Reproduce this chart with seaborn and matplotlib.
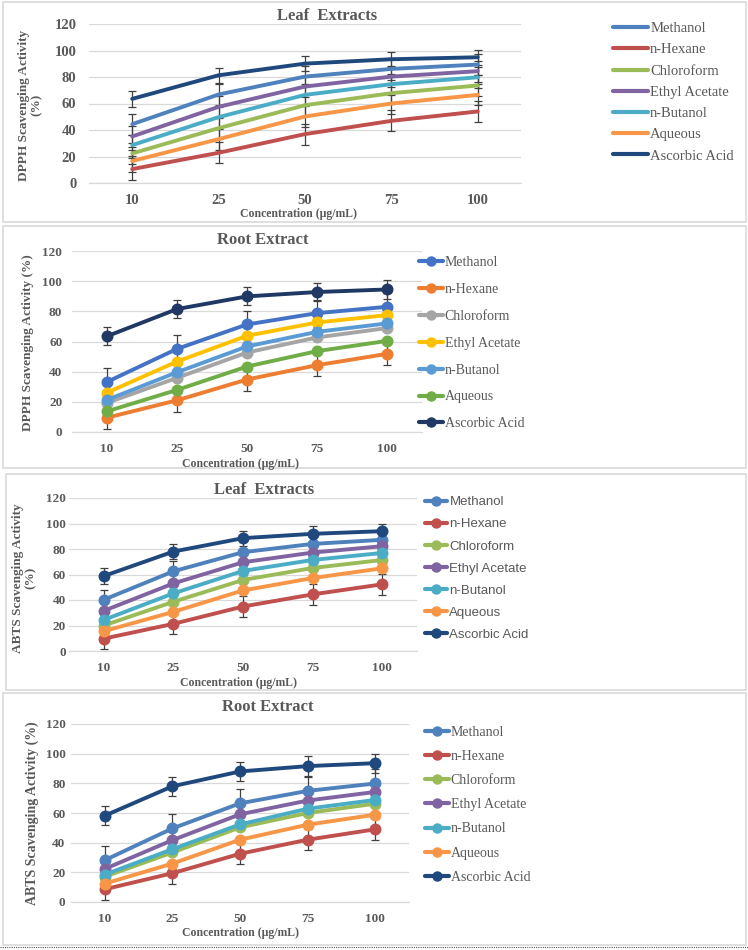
import pandas as pd
import seaborn as sns
import matplotlib.pyplot as plt
import numpy as np
from matplotlib.lines import Line2D
from matplotlib.patches import Rectangle

# data
conc = ["10", "25", "50", "75", "100"]
solvents = ["Methanol", "n-Hexane", "Chloroform", "Ethyl Acetate",
            "n-Butanol", "Aqueous", "Ascorbic Acid"]

dpph_leaf = [
    [44.4, 66.8, 80.3, 86.1, 89.4],
    [10.5, 22.8, 36.9, 46.9, 54.0],
    [22.3, 41.4, 58.7, 67.8, 73.6],
    [35.1, 57.5, 72.8, 80.3, 84.4],
    [28.6, 49.7, 66.5, 74.6, 79.8],
    [16.6, 33.1, 50.2, 60.0, 66.5],
    [63.5, 81.3, 90.1, 93.4, 94.9],
]
dpph_leaf_err = [8, 8, 8, 8, 8, 8, 5.8]

dpph_root = [
    [33.2, 55.1, 71.3, 78.8, 83.0],
    [9.5, 21.0, 34.8, 44.3, 51.8],
    [19.3, 35.9, 52.7, 62.7, 68.9],
    [26.1, 46.7, 63.8, 72.6, 77.5],
    [21.3, 39.6, 56.7, 66.4, 72.0],
    [13.7, 27.9, 43.4, 53.6, 60.4],
    [63.5, 81.5, 89.9, 92.8, 94.5],
]
dpph_root_err = [9, 7.5, None, None, None, None, 6]

abts_leaf = [
    [40.2, 62.5, 77.5, 84.0, 87.2],
    [9.7, 21.3, 34.9, 44.4, 52.3],
    [20.0, 38.6, 55.7, 65.1, 71.4],
    [31.5, 53.0, 69.6, 77.2, 82.2],
    [24.4, 45.2, 62.8, 71.4, 76.9],
    [15.5, 30.7, 47.5, 57.2, 64.9],
    [58.8, 78.0, 88.5, 91.9, 94.0],
]
abts_leaf_err = [8, 8, None, None, None, None, 6]

abts_root = [
    [28.2, 49.6, 66.5, 74.9, 79.9],
    [8.6, 19.4, 32.5, 42.0, 49.0],
    [17.1, 33.4, 50.3, 60.0, 66.3],
    [22.3, 41.7, 59.1, 68.4, 74.2],
    [18.5, 35.6, 52.3, 62.9, 68.8],
    [12.4, 25.9, 42.0, 52.1, 58.9],
    [58.2, 78.0, 88.0, 91.6, 93.6],
]
abts_root_err = [9.5, 7, None, None, None, None, 6.5]

pal_2010 = ["#4F81BD", "#C0504D", "#9BBB59", "#8064A2", "#4BACC6", "#F79646", "#1F497D"]
pal_2013 = ["#4472C4", "#ED7D31", "#A5A5A5", "#FFC000", "#5B9BD5", "#70AD47", "#203864"]

W, H = 748, 950
TXT = "#595959"
SERIF = "Liberation Serif"

sns.set_theme(style="white")
plt.rcParams["font.family"] = [SERIF, "DejaVu Sans"]

fig = plt.figure(figsize=(W / 100, H / 100), dpi=100)


def fx(px):
    return px / W


def fy(py):
    return 1 - py / H


# light panel borders like the Excel chart areas
for x0, y0, x1, y1 in [(3, 2, 746, 222), (3, 226, 746, 468), (6, 474, 746, 690), (3, 693, 746, 945)]:
    fig.patches.append(Rectangle((fx(x0), fy(y1)), fx(x1 - x0), (y1 - y0) / H,
                                 transform=fig.transFigure, fill=False,
                                 edgecolor="#D9D9D9", linewidth=1.2, zorder=0))
fig.add_artist(Line2D([0, 1], [fy(947), fy(947)], color="#555555", linestyle=(0, (1, 1)),
                      linewidth=0.8, transform=fig.transFigure))


def draw_panel(rect, values, errs, palette, markers, title, title_xy, ylabel, ylabel_xy,
               xlabel_xy, leg_xy, leg_font, tick_fs, ypad, title_fs, lab_fs, leg_spacing):
    l, r, t, b = rect
    ax = fig.add_axes([fx(l), fy(b), fx(r - l), (b - t) / H])
    df = pd.DataFrame([
        {"conc": c, "val": v, "solvent": s}
        for s, row in zip(solvents, values) for c, v in zip(conc, row)
    ])
    for i, s in enumerate(solvents):
        if errs[i] is not None:
            ax.errorbar(np.arange(len(conc)), values[i], yerr=errs[i], fmt="none",
                        ecolor="#404040", elinewidth=0.9, capsize=3, capthick=0.9, zorder=1)
    sns.pointplot(data=df, x="conc", y="val", hue="solvent", order=conc,
                  hue_order=solvents, palette=palette, errorbar=None, dodge=False,
                  markers="o", linestyles="-", markersize=6.5 if markers else 0,
                  linewidth=2.8, legend=False, ax=ax)
    for ln in ax.lines:
        ln.set_zorder(3)
    ax.set_xlim(-0.5, len(conc) - 0.5)
    ax.set_ylim(0, 120)
    ax.set_yticks(range(0, 121, 20))
    ax.yaxis.grid(True, color="#D9D9D9", linewidth=0.9)
    ax.set_axisbelow(True)
    for sp in ["top", "right", "left"]:
        ax.spines[sp].set_visible(False)
    ax.spines["bottom"].set_color("#D9D9D9")
    ax.spines["bottom"].set_linewidth(0.9)
    ax.set_xticks(np.arange(-0.5, len(conc)), minor=True)
    ax.tick_params(axis="x", which="minor", length=4, color="#D9D9D9", width=0.9)
    ax.tick_params(axis="x", which="major", length=0, pad=8)
    ax.tick_params(axis="y", length=0, pad=ypad)
    for lab in ax.get_xticklabels() + ax.get_yticklabels():
        lab.set_fontweight("bold")
        lab.set_color(TXT)
        lab.set_fontsize(tick_fs)
    ax.set_xlabel("")
    ax.set_ylabel("")
    fig.text(fx(title_xy[0]), fy(title_xy[1]), title, ha="center", va="center",
             fontsize=title_fs, fontweight="bold", color=TXT)
    fig.text(fx(ylabel_xy[0]), fy(ylabel_xy[1]), ylabel, ha="center", va="center",
             rotation=90, fontsize=lab_fs, fontweight="bold", color=TXT, linespacing=1.1)
    fig.text(fx(xlabel_xy[0]), fy(xlabel_xy[1]), "Concentration (μg/mL)", ha="center",
             va="center", fontsize=8.5, fontweight="bold", color=TXT)
    handles = [Line2D([], [], color=c, linewidth=3, marker="o" if markers else None,
                      markersize=6.5) for c in palette]
    ax.legend(handles, solvents, loc="upper left", bbox_to_anchor=(fx(leg_xy[0]), fy(leg_xy[1])),
              bbox_transform=fig.transFigure, frameon=False, borderpad=0, borderaxespad=0,
              handlelength=2.4 if not markers else 1.7, handletextpad=0.15,
              labelspacing=leg_spacing, prop=leg_font, labelcolor=TXT)
    return ax


draw_panel((89, 521, 24, 183), dpph_leaf, dpph_leaf_err, pal_2010, False,
           "Leaf  Extracts", (327, 16), "DPPH Scavenging Activity\n(%)", (30, 105),
           (298, 214), (613, 22), {"family": SERIF, "size": 10.5}, 10.5, 9, 12, 9.5, 0.55)

draw_panel((72, 422, 251, 432), dpph_root, dpph_root_err, pal_2013, True,
           "Root Extract", (263, 240), "DPPH Scavenging Activity (%)", (28, 343),
           (240, 464), (419, 256), {"family": SERIF, "size": 10}, 9.5, 7, 12, 9.5, 1.0)

draw_panel((69, 417, 498, 651), abts_leaf, abts_leaf_err, pal_2010, True,
           "Leaf  Extracts", (264, 490), "ABTS Scavenging Activity\n(%)", (24, 578),
           (238, 683), (425, 496), {"family": ["Liberation Sans Narrow", "Liberation Sans"], "size": 9.5},
           9.5, 2, 12, 9.5, 0.75)

draw_panel((71, 409, 724, 902), abts_root, abts_root_err, pal_2010, True,
           "Root Extract", (268, 707), "ABTS Scavenging Activity (%)", (32, 813),
           (240, 933), (425, 726), {"family": SERIF, "size": 10}, 9.5, 4, 12, 10, 0.8)

fig.savefig("out.png", dpi=100)
